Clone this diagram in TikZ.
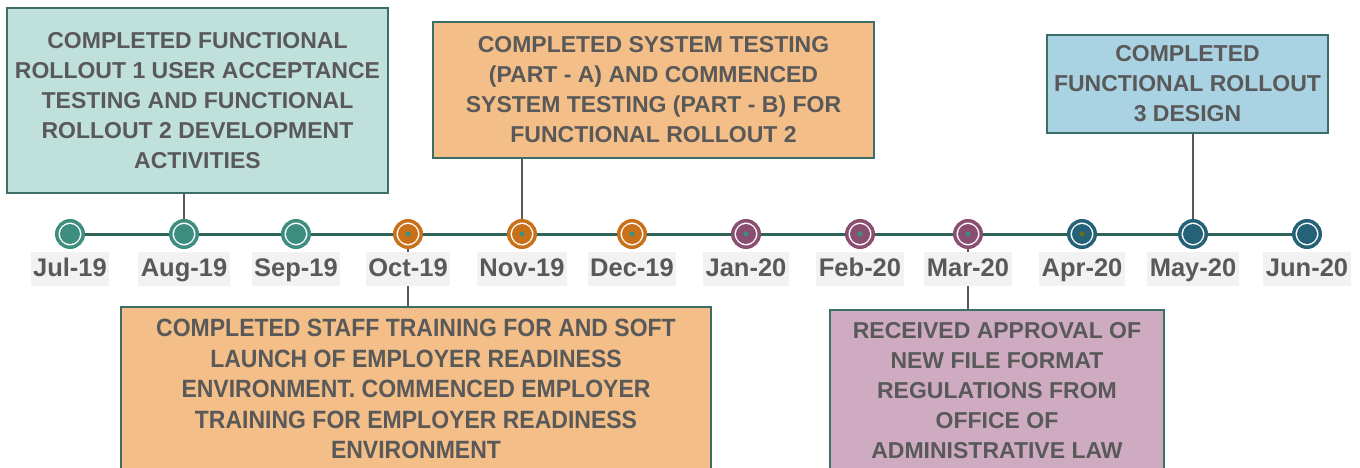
\documentclass[tikz,border=0pt]{standalone}
\usepackage{fontspec}
\setmainfont{Liberation Sans}
\newfontfamily\condfont[FakeStretch=0.92]{Liberation Sans}
\usetikzlibrary{backgrounds}
\definecolor{cteal}{HTML}{3E8E80}
\definecolor{corange}{HTML}{C8711A}
\definecolor{cpurple}{HTML}{8A4F70}
\definecolor{cnavy}{HTML}{266277}
\definecolor{cline}{HTML}{2E6359}
\definecolor{cconn}{HTML}{595959}
\definecolor{cborder}{HTML}{3B6E66}
\definecolor{ctext}{HTML}{595959}
\definecolor{cdotolive}{HTML}{6B6B1E}
\definecolor{flteal}{HTML}{C0E0DC}
\definecolor{florange}{HTML}{F3BE87}
\definecolor{flblue}{HTML}{A9D2E2}
\definecolor{flpurple}{HTML}{CEABC0}
\definecolor{datebg}{HTML}{F2F2F2}
\begin{document}
\begin{tikzpicture}[x=1pt,y=-1pt,
  mk/.style={circle, inner sep=0pt, minimum size=26.5pt, line width=3.5pt, fill=white, draw=#1},
  datelbl/.style={fill=datebg, text=ctext, font=\bfseries\fontsize{25.5}{30}\selectfont,
     inner xsep=2.5pt, inner ysep=0pt, text height=19pt, text depth=5pt, minimum height=34pt},
  box/.style={draw=cborder, line width=2pt, text=ctext, align=center, inner sep=0pt,
     font=\bfseries\fontsize{23}{30}\selectfont},
  conn/.style={draw=cconn, line width=2pt},
  tline/.style={draw=cline, line width=3pt}]
\useasboundingbox (0,0) rectangle (1360,468);
\clip (0,0) rectangle (1360,468);

% boxes
\node[box, fill=flteal, minimum width=381pt, minimum height=185pt] (b1) at (197.5,100.5)
 {COMPLETED FUNCTIONAL\\ROLLOUT 1 USER ACCEPTANCE\\TESTING AND FUNCTIONAL\\ROLLOUT 2 DEVELOPMENT\\ACTIVITIES};
\node[box, fill=florange, minimum width=441pt, minimum height=136pt] (b2) at (653.5,90)
 {COMPLETED SYSTEM TESTING\\(PART - A) AND COMMENCED\\SYSTEM TESTING (PART - B) FOR\\FUNCTIONAL ROLLOUT 2};
\node[box, fill=flblue, minimum width=281pt, minimum height=98pt] (b3) at (1187.5,84)
 {COMPLETED\\FUNCTIONAL ROLLOUT\\3 DESIGN};
\node[box, fill=florange, minimum width=590pt, minimum height=164pt,
      font=\condfont\bfseries\fontsize{25}{30.5}\selectfont] (b4) at (416,389)
 {COMPLETED STAFF TRAINING FOR AND SOFT\\LAUNCH OF EMPLOYER READINESS\\ENVIRONMENT. COMMENCED EMPLOYER\\TRAINING FOR EMPLOYER READINESS\\ENVIRONMENT};
\node[box, fill=flpurple, minimum width=334pt, minimum height=162pt] (b5) at (997,391)
 {RECEIVED APPROVAL OF\\NEW FILE FORMAT\\REGULATIONS FROM\\OFFICE OF\\ADMINISTRATIVE LAW};

% markers
\node[mk=cteal] (m1) at (70,234) {};
\node[mk=cteal] (m2) at (184,234) {};
\node[mk=cteal] (m3) at (296,234) {};
\node[mk=corange] (m4) at (408,234) {};
\node[mk=corange] (m5) at (522,234) {};
\node[mk=corange] (m6) at (632,234) {};
\node[mk=cpurple] (m7) at (746,234) {};
\node[mk=cpurple] (m8) at (860,234) {};
\node[mk=cpurple] (m9) at (968,234) {};
\node[mk=cnavy] (m10) at (1082,234) {};
\node[mk=cnavy] (m11) at (1193,234) {};
\node[mk=cnavy] (m12) at (1307,234) {};
\foreach \m/\c in {m1/cteal,m2/cteal,m3/cteal,m4/corange,m5/corange,m6/corange,m7/cpurple,m8/cpurple,m9/cpurple,m10/cnavy,m11/cnavy,m12/cnavy}
  \fill[\c] (\m.center) circle (10pt);
\foreach \m in {m4,m5,m6,m7,m8,m9}
  \fill[cteal] (\m.center) circle (2.5pt);
\fill[cdotolive] (m10.center) circle (2.5pt);

% date labels
\node[datelbl] (d1) at (70,269) {Jul-19};
\node[datelbl] (d2) at (184,269) {Aug-19};
\node[datelbl] (d3) at (296,269) {Sep-19};
\node[datelbl] (d4) at (408,269) {Oct-19};
\node[datelbl] (d5) at (522,269) {Nov-19};
\node[datelbl] (d6) at (632,269) {Dec-19};
\node[datelbl] (d7) at (746,269) {Jan-20};
\node[datelbl] (d8) at (860,269) {Feb-20};
\node[datelbl] (d9) at (968,269) {Mar-20};
\node[datelbl] (d10) at (1082,269) {Apr-20};
\node[datelbl] (d11) at (1193,269) {May-20};
\node[datelbl] (d12) at (1307,269) {Jun-20};

\begin{pgfonlayer}{background}
  \draw[conn] (b1.south -| m2) -- (m2.center);
  \draw[conn] (b2.south -| m5) -- (m5.center);
  \draw[conn] (b3.south -| m11) -- (m11.center);
  \draw[conn] (m4.center) -- (b4.north -| m4);
  \draw[conn] (m9.center) -- (b5.north -| m9);
  \draw[tline] (m1.center) -- (m12.center);
\end{pgfonlayer}
\end{tikzpicture}
\end{document}
